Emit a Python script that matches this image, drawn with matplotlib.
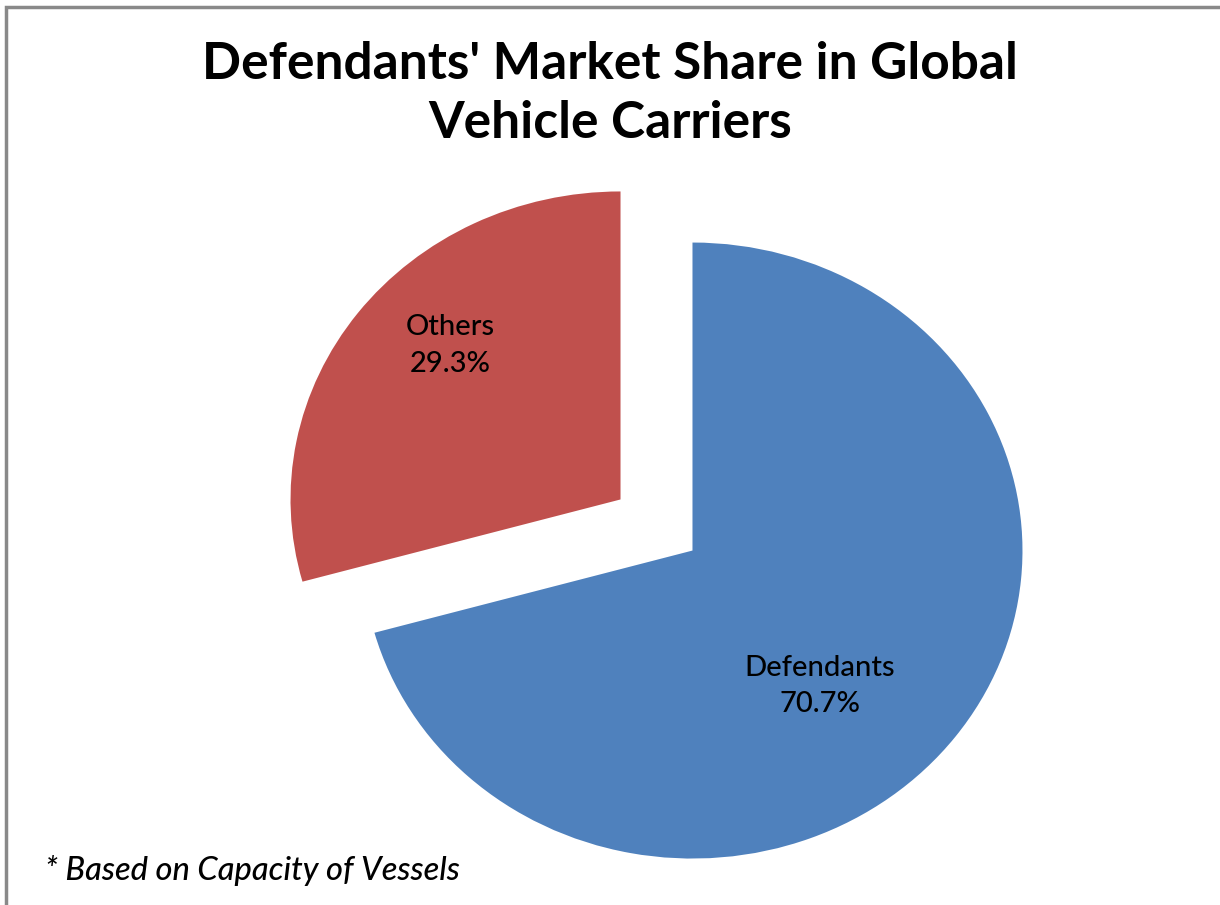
import matplotlib.pyplot as plt
from matplotlib.patches import Rectangle

labels = ["Defendants", "Others"]
shares = [70.7, 29.3]
colors = ["#4F81BD", "#C0504D"]
explode = [0.137, 0.137]

plt.rcParams['font.family'] = ['Lato', 'DejaVu Sans']

fig = plt.figure(figsize=(12.2, 9.05), dpi=100)
W, H = 1220, 905

# frame round the chart area
fig.add_artist(Rectangle((6 / W, -0.01), 1.1, (H - 7) / H + 0.01, transform=fig.transFigure,
                         fill=False, edgecolor="#898989", linewidth=2.5))

# pie is slightly stretched horizontally in the reference (rx 330px, ry 308px)
cx, cy = 656.5, H - 525
ax = fig.add_axes([(cx - 500) / W, (cy - 380) / H, 1000 / W, 760 / H])

wedges, texts = ax.pie(shares, colors=colors, explode=explode, startangle=90,
                       counterclock=False, wedgeprops=dict(linewidth=0), frame=True)
ax.set_xlim(-500 / 330, 500 / 330)
ax.set_ylim(-380 / 308, 380 / 308)
ax.set_aspect('auto')
ax.axis('off')

# label positions relative to each wedge's apex (in pie-radius units)
offsets = [(0.385, -0.44), (-0.515, 0.50)]
for w, lab, sh, (dx, dy) in zip(wedges, labels, shares, offsets):
    x0, y0 = w.center
    ax.text(x0 + dx, y0 + dy, f"{lab}\n{sh:.1f}%", ha='center', va='center',
            fontsize=21, fontweight='medium', linespacing=1.5, color='black')

fig.text(610 / W, 1 - 94 / H, "Defendants' Market Share in Global\nVehicle Carriers",
         ha='center', va='center', fontsize=37, fontweight='bold', linespacing=1.32)
fig.text(45 / W, 1 - 870 / H, "* Based on Capacity of Vessels", ha='left', va='center',
         fontsize=23.5, style='italic', fontweight='medium')

fig.savefig("out.png", dpi=100, facecolor='white')
